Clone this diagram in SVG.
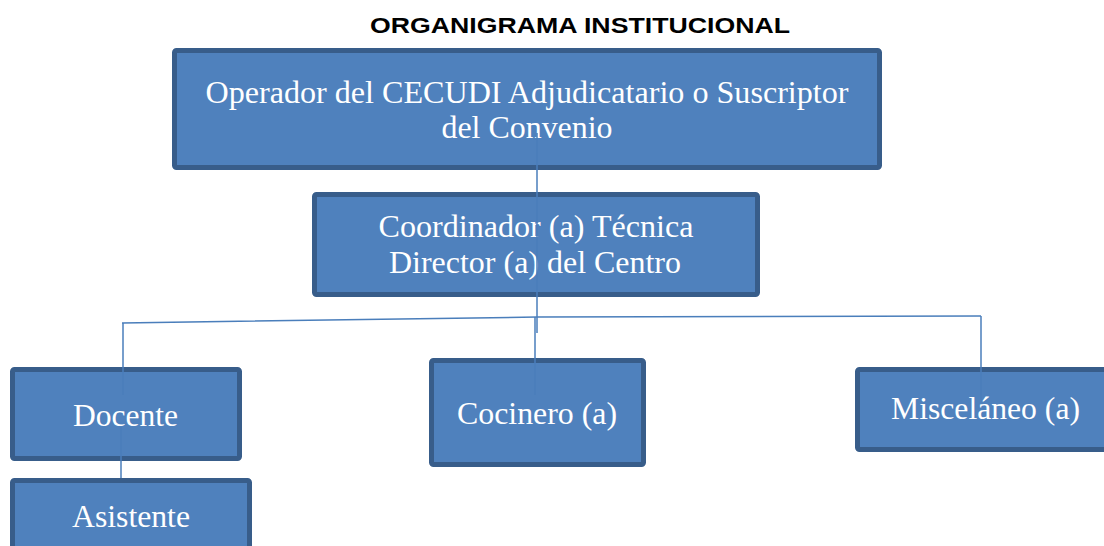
<svg xmlns="http://www.w3.org/2000/svg" width="1104" height="546" viewBox="0 0 1104 546">
<style>
.box{fill:#4F81BD;stroke:#385D8A;stroke-width:5}
.t{font-family:"Liberation Serif","Times New Roman",serif;font-size:32px;fill:#FFFFFF;text-anchor:middle}
.title{font-family:"Liberation Sans",Arial,sans-serif;font-size:22px;font-weight:bold;fill:#000000;text-anchor:middle}
.c{fill:none;stroke:#4A7EBB;stroke-width:1.5}
</style>
<rect width="1104" height="546" fill="#FFFFFF"/>
<text class="title" x="580" y="33" textLength="420" lengthAdjust="spacingAndGlyphs">ORGANIGRAMA INSTITUCIONAL</text>
<g id="operador">
<rect class="box" x="174.5" y="50.5" width="705" height="117" rx="2"/>
<text class="t" x="527" y="103" textLength="643" lengthAdjust="spacingAndGlyphs">Operador del CECUDI Adjudicatario o Suscriptor</text>
<text class="t" x="527" y="138" textLength="171" lengthAdjust="spacingAndGlyphs">del Convenio</text>
</g>
<g id="coordinador">
<rect class="box" x="314.5" y="194.5" width="443" height="100" rx="2"/>
<text class="t" x="536" y="237" textLength="315" lengthAdjust="spacingAndGlyphs">Coordinador (a) Técnica</text>
<text class="t" x="535" y="273" textLength="292" lengthAdjust="spacingAndGlyphs">Director (a) del Centro</text>
</g>
<g id="docente">
<rect class="box" x="12.5" y="369.5" width="227" height="89" rx="2"/>
<text class="t" x="125.5" y="426" textLength="105" lengthAdjust="spacingAndGlyphs">Docente</text>
</g>
<g id="asistente">
<rect class="box" x="12.5" y="480.5" width="237" height="80" rx="2"/>
<text class="t" x="131" y="527" textLength="118" lengthAdjust="spacingAndGlyphs">Asistente</text>
</g>
<g id="cocinero">
<rect class="box" x="431.5" y="360.5" width="212" height="104" rx="2"/>
<text class="t" x="537" y="424" textLength="160" lengthAdjust="spacingAndGlyphs">Cocinero (a)</text>
</g>
<g id="miscelaneo">
<rect class="box" x="857.5" y="369.5" width="260" height="80" rx="2"/>
<text class="t" x="985.5" y="419" textLength="189" lengthAdjust="spacingAndGlyphs">Misceláneo (a)</text>
</g>
<g id="connectors">
<line class="c" x1="537" y1="133" x2="537" y2="333"/>
<polyline class="c" points="122,323 537,317 981,316"/>
<line class="c" x1="123" y1="323" x2="123" y2="395"/>
<line class="c" x1="535" y1="317" x2="535" y2="395"/>
<line class="c" x1="981" y1="316" x2="981" y2="400"/>
<line class="c" x1="121" y1="427" x2="121" y2="478"/>
</g>
</svg>
